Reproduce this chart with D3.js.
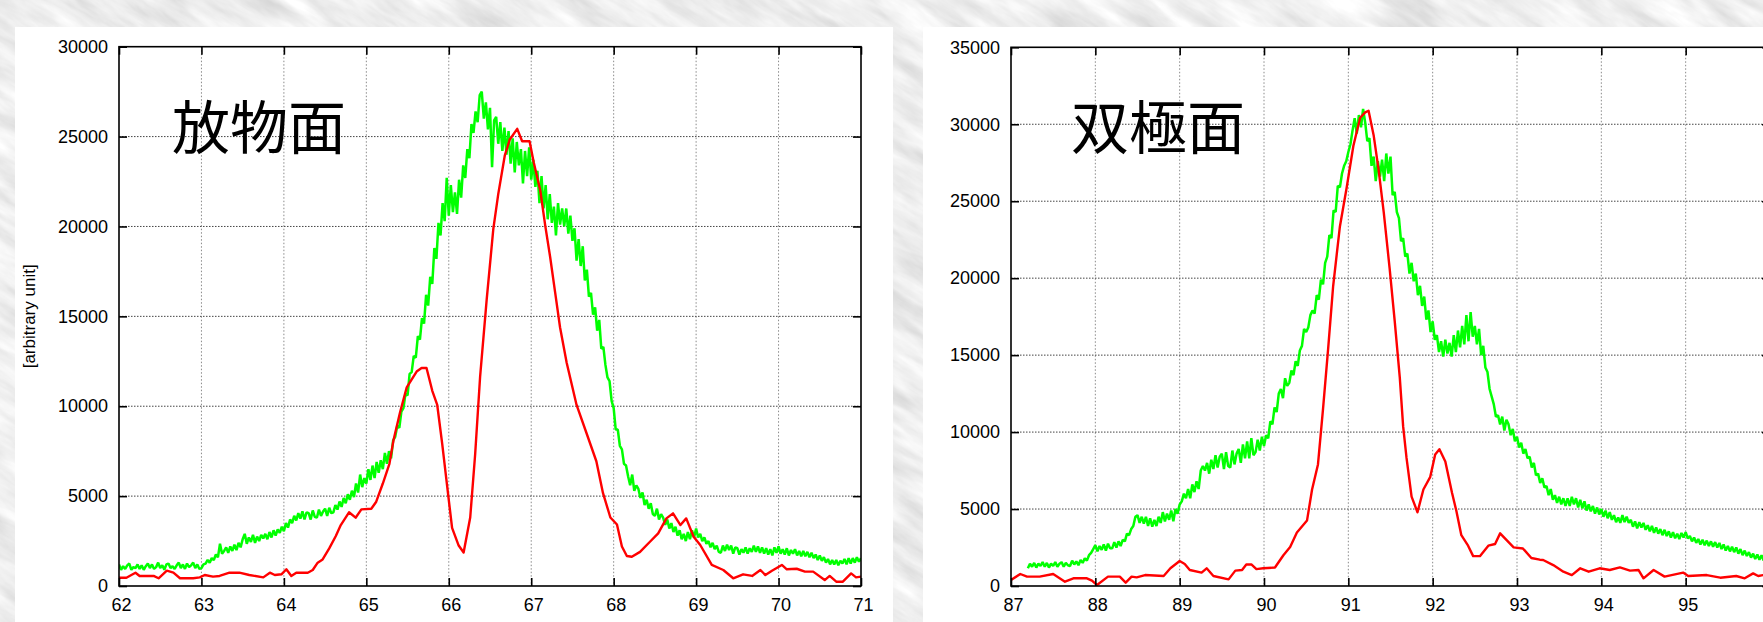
<!DOCTYPE html>
<html>
<head>
<meta charset="utf-8">
<script src="https://cdn.jsdelivr.net/npm/d3@7"></script>
<style>
  html, body { margin: 0; padding: 0; overflow: hidden; background: #d4d4d4; }
  svg { display: block; }
</style>
</head>
<body>
<svg id="chart" width="1763" height="622"></svg>
<script>
// ---------------- data ----------------
const paraTitle = "放物面";
const hypTitle = "双極面";
const yAxisLabel = "[arbitrary unit]";

const paraXTicks = [62, 63, 64, 65, 66, 67, 68, 69, 70, 71];
const paraYTicks = [0, 5000, 10000, 15000, 20000, 25000, 30000];
const hypXTicks = [87, 88, 89, 90, 91, 92, 93, 94, 95];
const hypYTicks = [0, 5000, 10000, 15000, 20000, 25000, 30000, 35000];

// green trace, paraboloid: sampled every 0.025 starting at 62.000 (one row = 0.5)
const paraGreenStart = 62.0;
const paraGreenStep = 0.025;
const paraGreen = [
  1200, 900, 1100, 950, 1150, 1250, 900, 1050, 1000, 1200, 950, 1150, 900, 1100, 1250, 1000, 1200, 950, 1050, 1300,
  1000, 1150, 900, 1200, 1250, 1000, 1100, 950, 1150, 1300, 1000, 1200, 950, 1250, 1050, 1150, 1300, 1000, 1200, 950,
  1000, 1200, 1250, 1450, 1300, 1550, 1450, 1750, 1600, 2350, 1800, 1950, 2150, 1850, 2200, 1950, 2300, 2000, 2400, 2150,
  2600, 2900, 2350, 2700, 2450, 2850, 2400, 2750, 2500, 2850, 2650, 2900, 2600, 3000, 2700, 3100, 2800, 3150, 2950, 3300,
  3050, 3500, 3250, 3700, 3500, 3900, 3650, 4050, 3750, 4150, 3700, 4100, 4050, 3700, 4200, 3850, 3800, 4250, 3900, 4150,
  4300, 3900, 4350, 4050, 4100, 4500, 4250, 4700, 4400, 4900, 4600, 5100, 4800, 5300, 4950, 5700, 5200, 6200, 5500, 6000,
  5700, 6500, 5900, 6700, 6000, 6900, 6300, 7000, 6500, 7400, 6800, 7500, 7100, 8100, 8300, 8900, 8800, 9700, 9900, 10700,
  10600, 11800, 11900, 12800, 12700, 13900, 13700, 14900, 14600, 16200, 15600, 17200, 16800, 18800, 18200, 20200, 19500, 21300, 20300, 22700,
  20600, 22300, 20800, 21900, 20700, 22600, 21600, 23400, 22700, 24300, 23800, 25700, 25200, 26400, 25800, 27300, 27500, 26000, 26900, 25400,
  26600, 23300, 25900, 26100, 24600, 25800, 24200, 25500, 24000, 25300, 23500, 24900, 23000, 24700, 23400, 24300, 22400, 24200, 22800, 24400,
  22600, 23700, 22200, 23100, 21300, 22800, 21000, 22300, 20400, 21800, 20200, 21100, 19500, 21300, 20100, 21000, 20000, 21000, 19600, 20600,
  19200, 19900, 18100, 19300, 17800, 18900, 17000, 17600, 16100, 16300, 15100, 15500, 14200, 14800, 13200, 13300, 12300, 11600, 11400, 10300,
  9900, 8700, 8700, 7800, 7600, 6800, 6700, 6100, 5600, 6200, 5300, 5600, 5400, 4900, 5200, 4500, 4800, 4300, 4600, 4000,
  3900, 4300, 3700, 4000, 3800, 3400, 3700, 3200, 3500, 3000, 3300, 2800, 3100, 2600, 2900, 2500, 3000, 2600, 3100, 2700,
  3200, 2700, 2900, 2500, 2700, 2350, 2500, 2150, 2400, 2050, 2250, 1900, 1850, 2250, 1950, 2300, 2000, 2250, 1800, 2150,
  2100, 1750, 2050, 1850, 2150, 1800, 2100, 1900, 2250, 1900, 2200, 1850, 2150, 1800, 2100, 1750, 2050, 1700, 2150, 1850,
  2200, 1800, 2050, 1750, 2100, 1700, 2000, 1800, 2050, 1700, 1950, 1650, 1950, 1650, 1900, 1600, 1850, 1550, 1750, 1450,
  1700, 1400, 1600, 1300, 1500, 1200, 1450, 1200, 1450, 1150, 1400, 1250, 1500, 1200, 1550, 1250, 1550, 1300, 1600, 1350,
  1550
];

// red trace, paraboloid: [angle, intensity]
const paraRed = [
  [62.0, 460], [62.09, 460], [62.15, 610], [62.2, 740], [62.25, 560], [62.42, 560], [62.48, 430], [62.58, 850],
  [62.66, 740], [62.74, 430], [62.9, 430], [62.98, 480], [63.04, 610], [63.14, 520], [63.22, 560], [63.34, 740],
  [63.46, 740], [63.58, 610], [63.75, 480], [63.83, 740], [63.89, 610], [63.97, 650], [64.03, 930], [64.09, 560],
  [64.15, 740], [64.29, 740], [64.35, 890], [64.41, 1300], [64.47, 1480], [64.55, 2090], [64.63, 2780], [64.69, 3390],
  [64.79, 4100], [64.87, 3800], [64.94, 4260], [65.06, 4300], [65.12, 4690], [65.2, 5700], [65.28, 6800], [65.33, 8120],
  [65.41, 9680], [65.49, 11050], [65.61, 11930], [65.67, 12130], [65.73, 12130], [65.8, 10860], [65.86, 10070], [65.92, 7920],
  [65.98, 5570], [66.04, 3230], [66.12, 2250], [66.18, 1860], [66.26, 3810], [66.32, 7330], [66.38, 11640], [66.46, 15940],
  [66.54, 19850], [66.6, 21800], [66.68, 23960], [66.74, 24840], [66.83, 25430], [66.89, 24740], [66.98, 24740], [67.03, 23570],
  [67.11, 22000], [67.17, 20050], [67.23, 18290], [67.29, 16330], [67.35, 14380], [67.43, 12420], [67.55, 10070], [67.67, 8510],
  [67.79, 6940], [67.87, 5180], [67.96, 3810], [68.04, 3420], [68.1, 2200], [68.16, 1670], [68.22, 1630], [68.32, 1900],
  [68.44, 2460], [68.54, 2930], [68.64, 3760], [68.72, 4040], [68.81, 3390], [68.88, 3760], [68.97, 2740], [69.05, 2280],
  [69.19, 1170], [69.33, 890], [69.45, 430], [69.57, 650], [69.68, 560], [69.78, 890], [69.84, 610], [69.92, 850],
  [70.04, 1170], [70.1, 930], [70.22, 960], [70.32, 800], [70.42, 800], [70.56, 330], [70.62, 560], [70.7, 240],
  [70.78, 240], [70.88, 700], [70.94, 480], [71.0, 520]
];

// green trace, hyperboloid: sampled every 0.025 starting at 87.200 (one row = 0.5)
const hypGreenStart = 87.2;
const hypGreenStep = 0.025;
const hypGreen = [
  1150, 1450, 1250, 1500, 1200, 1450, 1300, 1550, 1250, 1500, 1200, 1450, 1300, 1550, 1250, 1450, 1550, 1250, 1500, 1350,
  1300, 1650, 1400, 1600, 1350, 1700, 1500, 1800, 1650, 2000, 2150, 2400, 2650, 2250, 2600, 2350, 2700, 2300, 2750, 2450,
  2450, 2850, 2500, 2900, 2600, 3000, 2900, 3400, 3300, 3700, 3900, 4500, 4600, 4100, 4500, 4050, 4500, 3900, 4400, 3850,
  4300, 3900, 4500, 4100, 4800, 4200, 4700, 4300, 4900, 4200, 5000, 4700, 5300, 5500, 6000, 5700, 6300, 5700, 6600, 6100,
  6800, 6300, 7500, 7800, 7500, 8000, 7300, 8200, 7600, 8500, 7700, 8400, 8600, 7600, 8700, 7800, 7700, 8800, 7900, 8600,
  8900, 8000, 9200, 8300, 9400, 8300, 9600, 8500, 8700, 9500, 8800, 9700, 9100, 9800, 9600, 10700, 10500, 11600, 11300, 12500,
  12800, 12200, 13500, 13000, 13200, 14000, 13700, 14600, 14300, 15300, 15600, 16700, 16500, 16800, 17600, 17900, 17700, 18900, 18600, 19900,
  19600, 21000, 21400, 22800, 22600, 24400, 24300, 26000, 25900, 26800, 27300, 27600, 28200, 28700, 29600, 30400, 29400, 30600, 29800, 31000,
  30100, 28900, 29100, 27300, 27900, 26300, 27600, 26600, 27700, 26300, 28100, 26800, 27900, 25400, 25600, 24300, 23900, 22400, 22600, 21400,
  21600, 20300, 21000, 19800, 20300, 18900, 19500, 18200, 18800, 17300, 17900, 16500, 17200, 16000, 16300, 15200, 15900, 14900, 16000, 15100,
  15800, 14900, 16300, 15200, 16600, 15500, 16900, 15700, 17600, 15900, 17800, 16200, 16900, 15700, 16700, 15000, 15600, 14200, 13900, 12800,
  12300, 11800, 11000, 11100, 10500, 11000, 10100, 10800, 10500, 9800, 10200, 9400, 9700, 9000, 9300, 8600, 8900, 8300, 8400, 7700,
  8000, 7200, 7300, 6700, 7000, 6400, 6500, 5900, 6300, 5600, 5900, 5400, 5800, 5300, 5700, 5200, 5700, 5200, 5800, 5300,
  5700, 5100, 5600, 5050, 5500, 4900, 5300, 4850, 5200, 4700, 5100, 4650, 5000, 4500, 4900, 4400, 4800, 4300, 4600, 4150,
  4450, 4100, 4600, 4150, 4500, 4100, 4300, 3850, 4200, 3750, 4150, 3800, 4100, 3650, 3950, 3550, 3900, 3450, 3800, 3400,
  3700, 3300, 3650, 3250, 3550, 3150, 3500, 3100, 3400, 3050, 3450, 3150, 3500, 3100, 3250, 2900, 3150, 2800, 3050, 2700,
  3000, 2650, 2950, 2600, 2900, 2550, 2850, 2500, 2800, 2400, 2700, 2300, 2600, 2250, 2550, 2200, 2500, 2100, 2400, 2000,
  2300, 1950, 2200, 1850, 2100, 1750, 2050, 1700, 2000, 1650, 1950, 1650, 1900, 1550, 1850, 1550, 1800, 1500, 1750, 1500,
  1650
];

// red trace, hyperboloid: [angle, intensity]
const hypRed = [
  [87.0, 390], [87.11, 780], [87.19, 610], [87.34, 610], [87.5, 780], [87.64, 280], [87.74, 500], [87.9, 500],
  [87.96, 350], [88.02, 65], [88.15, 610], [88.29, 610], [88.36, 220], [88.43, 610], [88.49, 560], [88.59, 710],
  [88.81, 650], [88.89, 1150], [89.0, 1620], [89.06, 1430], [89.12, 1040], [89.26, 870], [89.32, 1150], [89.4, 650],
  [89.58, 430], [89.66, 1000], [89.74, 1040], [89.79, 1400], [89.85, 1400], [89.91, 1100], [89.99, 1150], [90.13, 1200],
  [90.23, 2000], [90.31, 2530], [90.39, 3480], [90.51, 4250], [90.57, 6270], [90.64, 7900], [90.7, 11510], [90.76, 15380],
  [90.82, 19490], [90.9, 23360], [90.98, 25870], [91.06, 28600], [91.14, 30420], [91.2, 30770], [91.24, 30880], [91.3, 29290],
  [91.36, 27000], [91.42, 24270], [91.49, 20620], [91.55, 17210], [91.61, 13560], [91.65, 10370], [91.69, 8320], [91.75, 5810],
  [91.82, 4790], [91.89, 6270], [91.97, 7070], [92.03, 8550], [92.08, 8890], [92.15, 8090], [92.23, 6040], [92.28, 4900],
  [92.34, 3300], [92.42, 2620], [92.48, 1940], [92.56, 1940], [92.66, 2620], [92.74, 2730], [92.8, 3420], [92.88, 2960],
  [92.96, 2510], [93.07, 2440], [93.17, 1820], [93.27, 1710], [93.31, 1690], [93.43, 1360], [93.55, 930], [93.65, 710],
  [93.75, 1150], [93.85, 930], [93.98, 1150], [94.1, 1040], [94.22, 1210], [94.34, 1000], [94.44, 1040], [94.5, 500],
  [94.62, 1040], [94.75, 610], [94.97, 870], [95.03, 650], [95.25, 710], [95.41, 540], [95.6, 650], [95.7, 500],
  [95.8, 820], [95.86, 650], [95.92, 710], [96.1, 650]
];

// ---------------- drawing ----------------
const FONT = "'Liberation Sans', Helvetica, Arial, sans-serif";
const CJK = "'Noto Sans CJK JP', 'Noto Sans CJK SC', sans-serif";
const svg = d3.select("#chart");
const defs = svg.append("defs");

// marbled grey backdrop
const f = defs.append("filter").attr("id", "marble")
  .attr("filterUnits", "userSpaceOnUse")
  .attr("x", -800).attr("y", -800).attr("width", 3400).attr("height", 2400);
f.append("feTurbulence").attr("type", "fractalNoise")
  .attr("baseFrequency", "0.014 0.06").attr("numOctaves", 5).attr("seed", 11);
f.append("feColorMatrix").attr("type", "matrix").attr("values",
  "0.26 0.26 0.26 0 0.47  0.26 0.26 0.26 0 0.47  0.26 0.26 0.26 0 0.47  0 0 0 0 1");

svg.append("g").attr("transform", "rotate(32 880 311)")
  .append("rect").attr("x", -800).attr("y", -800).attr("width", 3400).attr("height", 2400)
  .attr("filter", "url(#marble)");

function toPoints(start, step, vals) {
  return vals.map((v, i) => [start + i * step, v]);
}

function drawPanel(cfg) {
  const g = svg.append("g");
  // white sheet
  g.append("rect").attr("x", cfg.sheet[0]).attr("y", cfg.sheet[1])
    .attr("width", cfg.sheet[2]).attr("height", cfg.sheet[3]).attr("fill", "#ffffff");

  const x = d3.scaleLinear().domain(cfg.xDomain).range([cfg.left, cfg.right]);
  const y = d3.scaleLinear().domain(cfg.yDomain).range([cfg.bottom, cfg.top]);

  const clipId = "clip-" + cfg.id;
  defs.append("clipPath").attr("id", clipId).append("rect")
    .attr("x", cfg.left).attr("y", cfg.top)
    .attr("width", cfg.right - cfg.left).attr("height", cfg.bottom - cfg.top);

  // grid
  const grid = g.append("g");
  grid.selectAll("line.vg").data(cfg.xTicks.filter(t => t > cfg.xDomain[0] && t < cfg.xDomain[1]))
    .join("line").attr("class", "vg")
    .attr("x1", d => x(d)).attr("x2", d => x(d))
    .attr("y1", cfg.top).attr("y2", cfg.bottom)
    .attr("stroke", "#8a8a8a").attr("stroke-width", 1).attr("stroke-dasharray", "1.5,2");
  grid.selectAll("line.hg").data(cfg.yTicks.filter(t => t > cfg.yDomain[0] && t < cfg.yDomain[1]))
    .join("line").attr("class", "hg")
    .attr("x1", cfg.left).attr("x2", cfg.right)
    .attr("y1", d => y(d)).attr("y2", d => y(d))
    .attr("stroke", "#444").attr("stroke-width", 1).attr("stroke-dasharray", "1.5,1.5");

  // traces
  const line = d3.line().x(d => x(d[0])).y(d => y(d[1]));
  const traces = g.append("g").attr("clip-path", `url(#${clipId})`);
  traces.append("path").datum(cfg.green).attr("d", line)
    .attr("fill", "none").attr("stroke", "#00ff00").attr("stroke-width", 2.5)
    .attr("stroke-linejoin", "bevel");
  traces.append("path").datum(cfg.red).attr("d", line)
    .attr("fill", "none").attr("stroke", "#ff0000").attr("stroke-width", 2.4)
    .attr("stroke-linejoin", "round");

  // border
  g.append("rect").attr("x", cfg.left).attr("y", cfg.top)
    .attr("width", cfg.right - cfg.left).attr("height", cfg.bottom - cfg.top)
    .attr("fill", "none").attr("stroke", "#000").attr("stroke-width", 1.6);

  // inward ticks on all four sides via d3 axes
  const tk = 8;
  const fmt = d3.format("d");
  const axB = g.append("g").attr("transform", `translate(0,${cfg.bottom})`)
    .call(d3.axisBottom(x).tickValues(cfg.xTicks).tickSize(-tk).tickPadding(12).tickFormat(fmt));
  const axT = g.append("g").attr("transform", `translate(0,${cfg.top})`)
    .call(d3.axisTop(x).tickValues(cfg.xTicks).tickSize(-tk).tickFormat(""));
  const axL = g.append("g").attr("transform", `translate(${cfg.left},0)`)
    .call(d3.axisLeft(y).tickValues(cfg.yTicks).tickSize(-tk).tickPadding(11).tickFormat(fmt));
  const axR = g.append("g").attr("transform", `translate(${cfg.right},0)`)
    .call(d3.axisRight(y).tickValues(cfg.yTicks).tickSize(-tk).tickFormat(""));
  [axB, axT, axL, axR].forEach(a => {
    a.select(".domain").remove();
    a.selectAll(".tick line").attr("stroke", "#000").attr("stroke-width", 1.6);
    a.selectAll(".tick text").attr("fill", "#000")
      .style("font-family", FONT).style("font-size", "18px");
  });
  axB.selectAll(".tick text").attr("dx", "2");

  // title
  g.append("text").attr("x", cfg.titleX).attr("y", cfg.titleY)
    .style("font-family", CJK).style("font-size", "58px").attr("fill", "#000")
    .text(cfg.title);

  // vertical axis title
  if (cfg.yLabel) {
    g.append("text")
      .attr("transform", `translate(${cfg.yLabelX},${(cfg.top + cfg.bottom) / 2}) rotate(-90)`)
      .attr("text-anchor", "middle")
      .style("font-family", FONT).style("font-size", "17px").attr("fill", "#000")
      .text(cfg.yLabel);
  }
}

drawPanel({
  id: "para",
  sheet: [15, 27, 878, 620],
  left: 119, right: 861, top: 46.7, bottom: 586,
  xDomain: [62, 71], yDomain: [0, 30000],
  xTicks: paraXTicks, yTicks: paraYTicks,
  green: toPoints(paraGreenStart, paraGreenStep, paraGreen),
  red: paraRed,
  title: paraTitle, titleX: 172, titleY: 149,
  yLabel: yAxisLabel, yLabelX: 35
});

drawPanel({
  id: "hyp",
  sheet: [923, 27, 900, 620],
  left: 1011, right: 1770, top: 47.3, bottom: 586,
  xDomain: [87, 96], yDomain: [0, 35000],
  xTicks: hypXTicks, yTicks: hypYTicks,
  green: toPoints(hypGreenStart, hypGreenStep, hypGreen),
  red: hypRed,
  title: hypTitle, titleX: 1071, titleY: 149,
  yLabel: null
});
</script>
</body>
</html>
